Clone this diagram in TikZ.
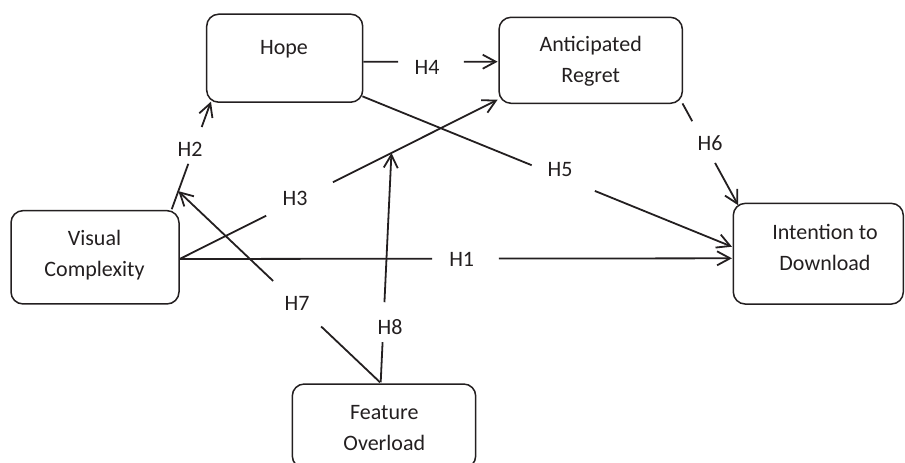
\documentclass[tikz,border=0pt]{standalone}
\usepackage{fontspec}
\setmainfont{Carlito}
\usetikzlibrary{arrows.meta,calc}
\definecolor{ink}{HTML}{231F20}
\begin{document}
\begin{tikzpicture}[x=1pt,y=-1pt,
  box/.style={draw=ink,line width=1.5pt,rounded corners=12pt,inner sep=0pt},
  txt/.style={text=ink,font=\fontsize{22}{30.7}\selectfont,align=center,inner sep=0pt},
  lab/.style={text=ink,font=\fontsize{22}{26}\selectfont,inner sep=0pt},
  conn/.style={draw=ink,line width=1.8pt},
  arr/.style={conn,-{Straight Barb[length=13pt,width=14pt]}},
]
\useasboundingbox (0,0) rectangle (905,463);

% boxes
\node[box,minimum width=156pt,minimum height=88pt] (hope) at (284.7,58.2) {};
\node[box,minimum width=183.3pt,minimum height=86pt] (ar) at (590.7,60.3) {};
\node[box,minimum width=168pt,minimum height=93.3pt] (vc) at (95,257.3) {};
\node[box,minimum width=170pt,minimum height=100.7pt] (id) at (818.3,253.7) {};
\node[box,minimum width=183.4pt,minimum height=84pt] (fo) at (384,426) {};

% box texts
\node[txt,anchor=base] (thope) at (284,54) {Hope};
\node[txt] (tar) at (590.7,61) {Anticipated\\Regret};
\node[txt] (tvc) at (94.5,255) {Visual\\Complexity};
\node[txt] (tid) at (825,247.7) {Intention to\\Download};
\node[txt] (tfo) at (384.3,427.7) {Feature\\Overload};

% connector end points
\coordinate (h1s) at ($(vc.east)+(0,1.7)$);
\coordinate (h1e) at ($(id.west)+(-0.6,4.6)$);
\coordinate (h2s) at ($(vc.north east)+(-8,-0.7)$);
\coordinate (h2e) at ($(hope.south west)+(5,-1.3)$);
\coordinate (h3s) at (h1s);
\coordinate (h3e) at ($(ar.south west)+(-0.7,-4.3)$);
\coordinate (h4s) at ($(hope.east)+(0,3.5)$);
\coordinate (h4e) at ($(ar.west)+(-0.7,1.4)$);
\coordinate (h5s) at ($(hope.south east)+(-1,-6.6)$);
\coordinate (h5e) at ($(id.west)+(-0.6,-7)$);
\coordinate (h6s) at ($(ar.south east)+(-0.6,-0.6)$);
\coordinate (h6e) at ($(id.north west)+(5.7,2.7)$);
\coordinate (m2) at ($(h2s)!0.168!(h2e)$);
\coordinate (m3) at ($(h3s)!0.666!(h3e)$);
\coordinate (h7s) at ($(fo.north)+(-4,-1)$);
\coordinate (h8s) at ($(fo.north)+(-3.3,-1)$);

% H1
\draw[conn] (h1s) -- ($(h1s)!0.457!(h1e)$);
\draw[arr] ($(h1s)!0.578!(h1e)$) -- (h1e);
\node[lab] (l1) at (461.7,259.5) {H1};
% H2
\draw[conn] (h2s) -- ($(h2s)!0.422!(h2e)$);
\draw[arr] ($(h2s)!0.764!(h2e)$) -- (h2e);
\node[lab] (l2) at (190,149) {H2};
% H3
\draw[conn] (h3s) -- ($(h3s)!0.272!(h3e)$);
\draw[arr] ($(h3s)!0.482!(h3e)$) -- (h3e);
\node[lab] (l3) at (295,198) {H3};
% H4
\draw[conn] (h4s) -- ($(h4s)!0.258!(h4e)$);
\draw[arr] ($(h4s)!0.749!(h4e)$) -- (h4e);
\node[lab] (l4) at (427,67.5) {H4};
% H5
\draw[conn] (h5s) -- ($(h5s)!0.458!(h5e)$);
\draw[arr] ($(h5s)!0.629!(h5e)$) -- (h5e);
\node[lab] (l5) at (560,170) {H5};
% H6
\draw[conn] (h6s) -- ($(h6s)!0.174!(h6e)$);
\draw[arr] ($(h6s)!0.584!(h6e)$) -- (h6e);
\node[lab] (l6) at (710,143) {H6};
% H7
\draw[conn] (h7s) -- ($(h7s)!0.292!(m2)$);
\draw[arr] ($(h7s)!0.53!(m2)$) -- (m2);
\node[lab] (l7) at (297,303.5) {H7};
% H8
\draw[conn] (h8s) -- ($(h8s)!0.175!(m3)$);
\draw[arr] ($(h8s)!0.349!(m3)$) -- (m3);
\node[lab] (l8) at (390,327) {H8};
\end{tikzpicture}
\end{document}
